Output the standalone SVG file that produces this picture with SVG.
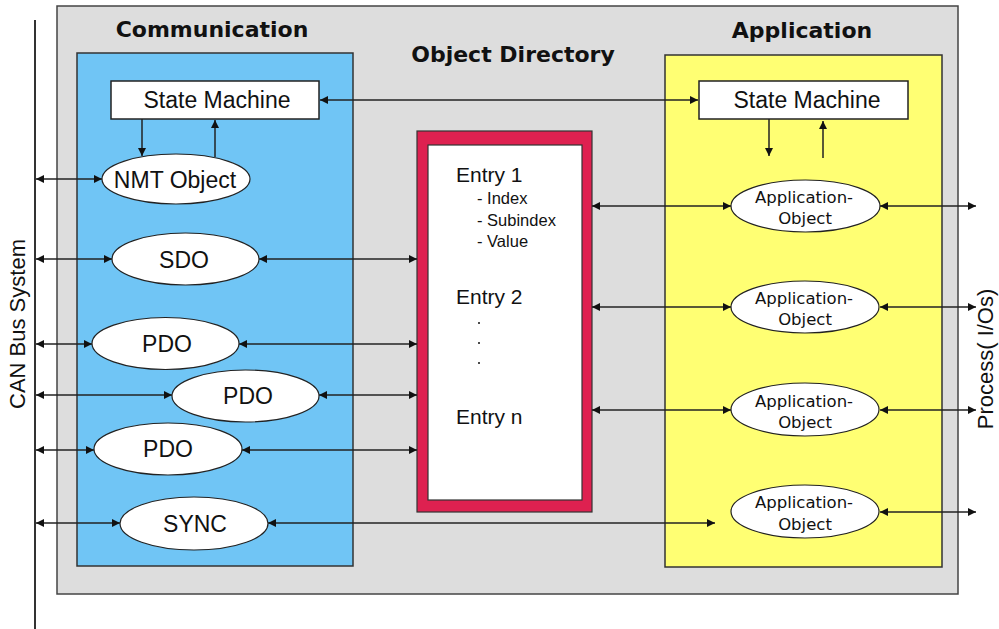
<svg xmlns="http://www.w3.org/2000/svg" width="999" height="629" viewBox="0 0 999 629">
  <style>
    .panel { fill: #dddddd; stroke: #444; stroke-width: 1.5; }
    .comm { fill: #70c5f5; stroke: #333; stroke-width: 1.5; }
    .app { fill: #ffff73; stroke: #333; stroke-width: 1.5; }
    .box { fill: #ffffff; stroke: #222; stroke-width: 1.5; }
    .obj { fill: #ffffff; stroke: #222; stroke-width: 1.2; }
    .title { font-family: "DejaVu Sans", sans-serif; font-weight: bold; font-size: 22px; fill: #111; text-anchor: middle; }
    .lbl { font-family: "Liberation Sans", Arial, sans-serif; font-size: 23px; fill: #111; text-anchor: middle; }
    .small { font-family: "DejaVu Sans", sans-serif; font-size: 16.5px; fill: #111; text-anchor: middle; }
    .entry { font-family: "Liberation Sans", Arial, sans-serif; font-size: 21px; fill: #111; }
    .sub { font-family: "Liberation Sans", Arial, sans-serif; font-size: 16.5px; fill: #111; }
    .side { font-family: "Liberation Sans", Arial, sans-serif; font-size: 22px; fill: #111; text-anchor: middle; }
    .wire { fill: none; stroke: #222; stroke-width: 1.5; }
    .both { marker-start: url(#head); marker-end: url(#head); }
    .one { marker-end: url(#head); }
  </style>
  <defs>
    <marker id="head" viewBox="0 0 8 8" refX="8" refY="4" markerWidth="8" markerHeight="8" markerUnits="userSpaceOnUse" orient="auto-start-reverse">
      <path d="M0,0 L8,4 L0,8 z" fill="#111"/>
    </marker>
  </defs>

  <rect width="999" height="629" fill="#ffffff"/>

  <!-- bus and outer panel -->
  <g id="can-bus">
    <line x1="35" y1="20" x2="35" y2="629" stroke="#333" stroke-width="2"/>
    <text class="side" transform="translate(25,324) rotate(-90)">CAN Bus System</text>
  </g>
  <g id="device">
    <rect class="panel" x="57" y="6" width="901" height="588"/>
  </g>

  <g id="communication">
    <rect class="comm" x="77" y="53" width="276" height="513"/>
    <text class="title" x="212" y="37">Communication</text>
  </g>

  <g id="application">
    <rect class="app" x="665" y="55" width="277" height="512"/>
    <text class="title" x="802" y="38">Application</text>
  </g>

  <g id="object-directory">
    <text class="title" x="513" y="62">Object Directory</text>
    <rect x="417" y="131" width="175" height="381" fill="#de2150" stroke="#333" stroke-width="1.2"/>
    <rect x="428" y="145" width="154" height="355" fill="#ffffff" stroke="#333" stroke-width="1.2"/>
    <text class="entry" x="456" y="182">Entry 1</text>
    <text class="sub" x="477" y="204">- Index</text>
    <text class="sub" x="477" y="226">- Subindex</text>
    <text class="sub" x="477" y="247">- Value</text>
    <text class="entry" x="456" y="304">Entry 2</text>
    <circle cx="479" cy="323" r="1" fill="#111"/>
    <circle cx="479" cy="343" r="1" fill="#111"/>
    <circle cx="479" cy="363" r="1" fill="#111"/>
    <text class="entry" x="456" y="424">Entry n</text>
  </g>

  <g id="process">
    <text class="side" font-size="21" transform="translate(993,359) rotate(-90)">Process( I/Os)</text>
  </g>

  <!-- connectors -->
  <g id="connectors">
    <!-- state machine link -->
    <line class="wire both" x1="320" y1="100" x2="698" y2="100"/>
    <!-- communication state machine / NMT -->
    <line class="wire one" x1="142" y1="119" x2="142" y2="156"/>
    <line class="wire one" x1="215" y1="157" x2="215" y2="120"/>
    <!-- application state machine -->
    <line class="wire one" x1="769" y1="119" x2="769" y2="156"/>
    <line class="wire one" x1="823" y1="158" x2="823" y2="121"/>
    <!-- bus to communication objects -->
    <line class="wire both" x1="36" y1="179" x2="102" y2="179"/>
    <line class="wire both" x1="36" y1="259" x2="112" y2="259"/>
    <line class="wire both" x1="36" y1="344" x2="92" y2="344"/>
    <line class="wire both" x1="36" y1="395" x2="172" y2="395"/>
    <line class="wire both" x1="36" y1="450" x2="94" y2="450"/>
    <line class="wire both" x1="36" y1="523" x2="120" y2="523"/>
    <!-- communication objects to directory -->
    <line class="wire both" x1="259" y1="259" x2="417" y2="259"/>
    <line class="wire both" x1="239" y1="344" x2="417" y2="344"/>
    <line class="wire both" x1="319" y1="395" x2="417" y2="395"/>
    <line class="wire both" x1="242" y1="450" x2="417" y2="450"/>
    <line class="wire both" x1="268" y1="523" x2="715" y2="523"/>
    <!-- directory to application objects -->
    <line class="wire both" x1="592" y1="206" x2="731" y2="206"/>
    <line class="wire both" x1="592" y1="307" x2="731" y2="307"/>
    <line class="wire both" x1="592" y1="410" x2="731" y2="410"/>
    <!-- application objects to process -->
    <line class="wire both" x1="880" y1="206" x2="976" y2="206"/>
    <line class="wire both" x1="880" y1="307" x2="976" y2="307"/>
    <line class="wire both" x1="880" y1="410" x2="976" y2="410"/>
    <line class="wire both" x1="880" y1="512" x2="976" y2="512"/>
  </g>

  <!-- communication nodes -->
  <g id="comm-state-machine">
    <rect class="box" x="111" y="81" width="208" height="38"/>
    <text class="lbl" x="217" y="108">State Machine</text>
  </g>
  <g id="nmt-object">
    <ellipse class="obj" cx="176" cy="179" rx="74" ry="25"/>
    <text class="lbl" x="175" y="188" font-size="22">NMT Object</text>
  </g>
  <g id="sdo">
    <ellipse class="obj" cx="185.5" cy="259" rx="73.5" ry="26"/>
    <text class="lbl" x="184" y="268">SDO</text>
  </g>
  <g id="pdo-1">
    <ellipse class="obj" cx="165.5" cy="343.5" rx="73.5" ry="26"/>
    <text class="lbl" x="167" y="352">PDO</text>
  </g>
  <g id="pdo-2">
    <ellipse class="obj" cx="245.5" cy="396" rx="73.5" ry="26"/>
    <text class="lbl" x="248" y="404">PDO</text>
  </g>
  <g id="pdo-3">
    <ellipse class="obj" cx="168" cy="449" rx="74" ry="26"/>
    <text class="lbl" x="168" y="457">PDO</text>
  </g>
  <g id="sync">
    <ellipse class="obj" cx="194" cy="523.5" rx="74" ry="26.5"/>
    <text class="lbl" x="195" y="532">SYNC</text>
  </g>

  <!-- application nodes -->
  <g id="app-state-machine">
    <rect class="box" x="699" y="81" width="209" height="38"/>
    <text class="lbl" x="807" y="108">State Machine</text>
  </g>
  <g id="app-object-1">
    <ellipse class="obj" cx="805.5" cy="206" rx="74.5" ry="26"/>
    <text class="small" x="804" y="203">Application-</text>
    <text class="small" x="805" y="224">Object</text>
  </g>
  <g id="app-object-2">
    <ellipse class="obj" cx="805" cy="307" rx="74" ry="26"/>
    <text class="small" x="804" y="304">Application-</text>
    <text class="small" x="805" y="325">Object</text>
  </g>
  <g id="app-object-3">
    <ellipse class="obj" cx="805" cy="409.5" rx="74" ry="26.5"/>
    <text class="small" x="804" y="407">Application-</text>
    <text class="small" x="805" y="428">Object</text>
  </g>
  <g id="app-object-4">
    <ellipse class="obj" cx="805" cy="511.5" rx="74" ry="26.5"/>
    <text class="small" x="804" y="508">Application-</text>
    <text class="small" x="805" y="530">Object</text>
  </g>
</svg>
